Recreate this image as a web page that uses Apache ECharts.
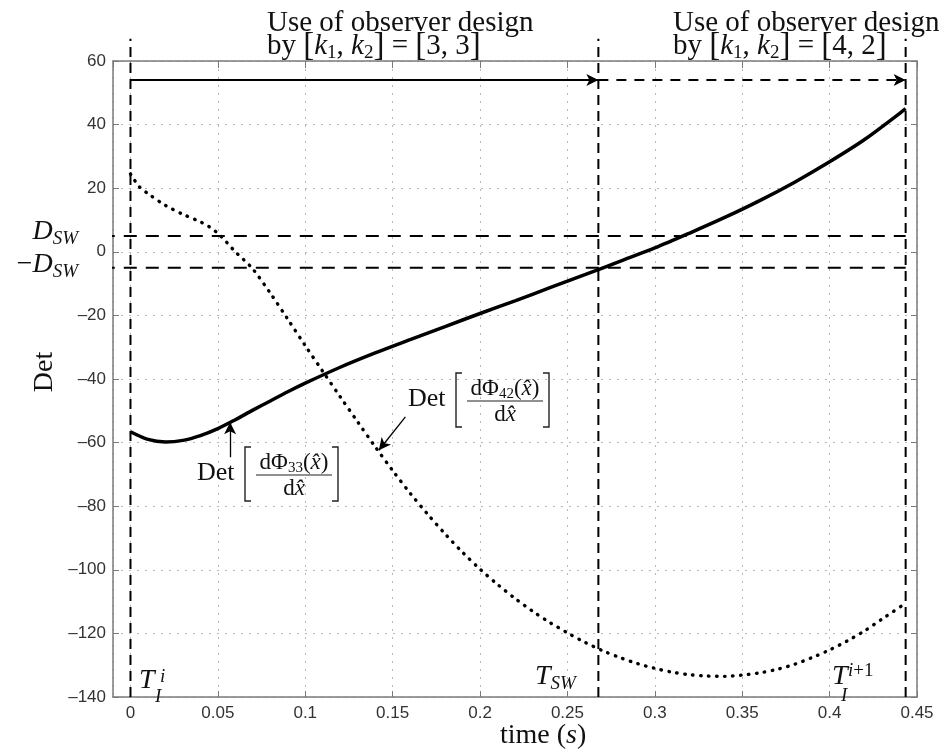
<!DOCTYPE html>
<html>
<head>
<meta charset="utf-8">
<style>html,body{margin:0;padding:0;background:#fff}#main{width:939px;height:751px}</style>
<script src="https://cdn.jsdelivr.net/npm/echarts@6.0.0/dist/echarts.min.js"></script>
</head>
<body>
<div id="main"></div>
<script>
var myChart = echarts.init(document.getElementById('main'));

// Det[dPhi33/dx] - solid curve
var t33 = [0, 0.01, 0.02, 0.03, 0.04, 0.05, 0.06, 0.07, 0.08, 0.09, 0.1, 0.12, 0.14, 0.16, 0.18, 0.2,
    0.22, 0.24, 0.26, 0.28, 0.3, 0.32, 0.34, 0.36, 0.38, 0.4, 0.42, 0.4435];
var det33 = [-56.6, -59.0, -59.8, -59.3, -57.8, -55.6, -52.8, -49.8, -46.9, -44.0, -41.3, -36.3, -31.8, -27.6, -23.5, -19.4,
    -15.4, -11.3, -7.2, -3.0, 1.2, 5.9, 10.8, 16.1, 21.9, 28.3, 35.3, 45.0];

// Det[dPhi42/dx] - dotted curve
var t42 = [0, 0.005, 0.01, 0.02, 0.03, 0.04, 0.045, 0.05, 0.055, 0.06, 0.065, 0.07, 0.08, 0.09, 0.1, 0.11, 0.12,
    0.13, 0.14, 0.15, 0.16, 0.17, 0.18, 0.19, 0.2, 0.21, 0.22, 0.23, 0.24, 0.25, 0.26, 0.27, 0.28, 0.29, 0.3,
    0.31, 0.32, 0.33, 0.34, 0.35, 0.36, 0.37, 0.38, 0.39, 0.4, 0.41, 0.42, 0.43, 0.4435];
var det42 = [24.5, 20.5, 18.3, 14.6, 11.8, 9.4, 7.9, 5.8, 3.0, 0.0, -2.6, -5.4, -13.0, -21.2, -29.5, -37.6, -45.6,
    -53.5, -61.3, -68.8, -75.9, -82.5, -88.7, -94.5, -99.8, -104.6, -109.0, -113.0, -116.6, -119.8, -122.8, -125.4, -127.6, -129.5, -131.0,
    -132.2, -133.0, -133.4, -133.5, -133.1, -132.4, -131.3, -129.7, -127.6, -125.2, -122.4, -119.2, -115.5, -110.5];

// T_I^i, T_SW, T_I^{i+1}
var switchT = [0, 0.2677, 0.4435];
var dsw = 5;
var arrowLevel = 54;
var guideTop = 67;
var guideLeft = -0.029;

var serif = "'Liberation Serif','Times New Roman',serif";

function pairs(xs, ys) {
    return xs.map(function (x, i) { return [x, ys[i]]; });
}

function guide(data, dash, w) {
    return {
        type: 'line', data: data, clip: false, silent: true, symbol: 'none', z: 3,
        lineStyle: {color: '#000', width: w, type: dash}
    };
}

var rich = {
    t: {fontFamily: serif, fontSize: 29, fill: '#111'},
    ti: {fontFamily: serif, fontSize: 29, fontStyle: 'italic', fill: '#111'},
    tb: {fontFamily: serif, fontSize: 33, fill: '#111'},
    r: {fontFamily: serif, fontSize: 28, fill: '#111'},
    i: {fontFamily: serif, fontSize: 28, fontStyle: 'italic', fill: '#111'},
    s: {fontFamily: serif, fontSize: 19, fontStyle: 'italic', fill: '#111', padding: [14, 0, 0, 0]},
    sr: {fontFamily: serif, fontSize: 19, fill: '#111', padding: [14, 0, 0, 0]},
    fr: {fontFamily: serif, fontSize: 23, fill: '#111'},
    fi: {fontFamily: serif, fontSize: 23, fontStyle: 'italic', fill: '#111'},
    fs: {fontFamily: serif, fontSize: 15, fill: '#111', padding: [10, 0, 0, 0]}
};

function txt(x, y, text, align) {
    return {
        type: 'text', x: x, y: y, silent: true, z: 20,
        style: {text: text, rich: rich, align: align || 'left', verticalAlign: 'middle', font: '28px ' + serif, fill: '#111'}
    };
}

// Det [ dPhi_nn(x^) / dx^ ] annotation
function detLabel(left, barY, idx) {
    var b = left + 48;
    var cx = left + 97;
    return [
        {type: 'text', x: left, y: barY - 2, silent: true, z: 20,
            style: {text: 'Det', font: '26px ' + serif, fill: '#111', align: 'left', verticalAlign: 'middle'}},
        {type: 'polyline', silent: true, z: 20, shape: {points: [[b + 6, barY - 28], [b, barY - 28], [b, barY + 26], [b + 6, barY + 26]]},
            style: {stroke: '#222', lineWidth: 1.4, fill: null}},
        {type: 'polyline', silent: true, z: 20, shape: {points: [[b + 87, barY - 28], [b + 93, barY - 28], [b + 93, barY + 26], [b + 87, barY + 26]]},
            style: {stroke: '#222', lineWidth: 1.4, fill: null}},
        {type: 'text', x: cx, y: barY - 12, silent: true, z: 20,
            style: {text: '{fr|d\u03a6}{fs|' + idx + '}{fr|(}{fi|x\u0302}{fr|)}', rich: rich, align: 'center', verticalAlign: 'middle'}},
        {type: 'line', silent: true, z: 20, shape: {x1: cx - 38, y1: barY, x2: cx + 38, y2: barY},
            style: {stroke: '#222', lineWidth: 1.2}},
        {type: 'text', x: cx, y: barY + 14, silent: true, z: 20,
            style: {text: '{fr|d}{fi|x\u0302}', rich: rich, align: 'center', verticalAlign: 'middle'}}
    ];
}

var axisGray = '#7a7a7a';
var labelFont = {color: '#333', fontSize: 17, fontFamily: 'Liberation Sans'};

option = {
    animation: false,
    grid: {left: 113, right: 22, top: 61, bottom: 54},
    xAxis: [{
        type: 'value', min: -0.01, max: 0.45, splitNumber: 9, position: 'bottom',
        axisLine: {onZero: false, lineStyle: {color: axisGray, width: 1.5}},
        axisTick: {inside: true, length: 6, lineStyle: {color: axisGray}},
        axisLabel: Object.assign({showMinLabel: false, margin: 8}, labelFont),
        splitLine: {show: true, lineStyle: {color: '#b8b8b8', type: [2, 6], width: 1}}
    }, {
        type: 'value', min: -0.01, max: 0.45, splitNumber: 9, position: 'top',
        axisLine: {onZero: false, lineStyle: {color: axisGray, width: 1.5}},
        axisTick: {inside: true, length: 7, lineStyle: {color: axisGray}},
        axisLabel: {show: false}, splitLine: {show: false}
    }],
    yAxis: [{
        type: 'value', min: -140, max: 60, interval: 20,
        axisLine: {show: true, onZero: false, lineStyle: {color: axisGray, width: 1.5}},
        axisTick: {show: true, inside: true, length: 6, lineStyle: {color: axisGray}},
        axisLabel: Object.assign({
            margin: 7,
            formatter: function (v) { return String(v).replace('-', '\u2013'); }
        }, labelFont),
        splitLine: {show: true, lineStyle: {color: '#b8b8b8', type: [2, 6], width: 1}}
    }, {
        type: 'value', min: -140, max: 60, interval: 20, position: 'right',
        axisLine: {show: true, onZero: false, lineStyle: {color: axisGray, width: 1.5}},
        axisTick: {show: true, inside: true, length: 6, lineStyle: {color: axisGray}},
        axisLabel: {show: false}, splitLine: {show: false}
    }],
    series: [
        {
            type: 'line', name: 'det33', data: pairs(t33, det33), smooth: 0.3, symbol: 'none', z: 6,
            lineStyle: {color: '#000', width: 3.5},
            markLine: {
                silent: true, symbol: ['none', 'arrow'], symbolSize: [9, 12], label: {show: false},
                lineStyle: {color: '#000', width: 2, type: 'solid'},
                data: [
                    [{coord: [switchT[0], arrowLevel]}, {coord: [switchT[1], arrowLevel]}],
                    [{coord: [switchT[1], arrowLevel], lineStyle: {type: [10, 8], width: 2}}, {coord: [switchT[2], arrowLevel]}],
                    [{coord: [0.057, -64.6], lineStyle: {width: 1.3}}, {coord: [0.057, -53.6]}],
                    [{coord: [0.1573, -51.9], lineStyle: {width: 1.3}}, {coord: [0.1421, -62.4]}]
                ]
            }
        },
        {
            type: 'line', name: 'det42', data: pairs(t42, det42), smooth: 0.3, symbol: 'none', z: 6,
            lineStyle: {color: '#000', width: 3.4, type: [0.5, 7.5], cap: 'round'}
        },
        guide([[switchT[0], -140], [switchT[0], guideTop]], [10, 6], 2),
        guide([[switchT[1], -140], [switchT[1], guideTop]], [10, 6], 2),
        guide([[switchT[2], -140], [switchT[2], guideTop]], [10, 6], 2),
        guide([[guideLeft, dsw], [switchT[2], dsw]], [13, 9], 2),
        guide([[guideLeft, -dsw], [switchT[2], -dsw]], [13, 9], 2)
    ],
    graphic: [
        txt(267, 23, '{t|Use of observer design}'),
        txt(267, 46, '{t|by }{tb|[}{ti|k}{sr|1}{t|, }{ti|k}{sr|2}{tb|]}{t| = }{tb|[}{t|3, 3}{tb|]}'),
        txt(673, 23, '{t|Use of observer design}'),
        txt(673, 46, '{t|by }{tb|[}{ti|k}{sr|1}{t|, }{ti|k}{sr|2}{tb|]}{t| = }{tb|[}{t|4, 2}{tb|]}'),
        txt(78, 232, '{i|D}{s|SW}', 'right'),
        txt(78, 265, '{r|\u2212}{i|D}{s|SW}', 'right'),
        txt(139, 681, '{i|T}'),
        txt(160, 670, '{s|i}'),
        txt(155, 690, '{s|I}'),
        txt(535, 677, '{i|T}{s|SW}'),
        txt(832, 677, '{i|T}'),
        txt(848, 664, '{s|i}{sr|+1}'),
        txt(841, 689, '{s|I}'),
        txt(500, 736, '{r|time (}{i|s}{r|)}'),
        {type: 'text', x: 45, y: 372, rotation: Math.PI / 2, silent: true, z: 20,
            style: {text: 'Det', font: '28px ' + serif, fill: '#111', align: 'center', verticalAlign: 'middle'}}
    ].concat(detLabel(197, 475, '33')).concat(detLabel(408, 401, '42'))
};

myChart.setOption(option);
</script>
</body>
</html>
